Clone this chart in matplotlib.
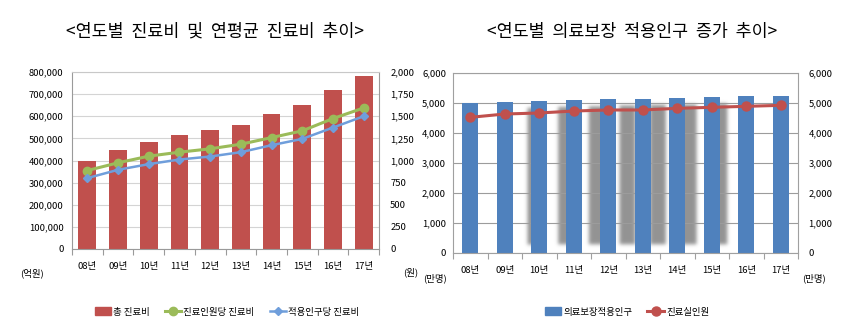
import numpy as np
import matplotlib
matplotlib.use("Agg")
import matplotlib.pyplot as plt
from matplotlib.ticker import FuncFormatter, MultipleLocator, FixedLocator
from matplotlib.patches import Patch

plt.rcParams["font.family"] = ["Noto Sans CJK KR", "DejaVu Sans"]

# ---- data ----
years = ["08년", "09년", "10년", "11년", "12년", "13년", "14년", "15년", "16년", "17년"]

# left chart: total medical expenses (억원) and per-capita expenses (원)
total_cost = [400000, 446000, 485000, 515000, 537000, 562000, 610000, 652000, 720000, 781000]
cost_per_patient = [887, 974, 1049, 1094, 1132, 1184, 1259, 1335, 1474, 1594]
cost_per_covered = [801, 895, 959, 1011, 1045, 1094, 1173, 1244, 1372, 1500]

# right chart: covered population and actual patients (만명)
covered_pop = [5000, 5030, 5070, 5100, 5120, 5150, 5180, 5190, 5220, 5250]
patients = [4522, 4633, 4667, 4733, 4767, 4767, 4822, 4856, 4889, 4922]

left_title = "<연도별  진료비  및  연평균  진료비  추이>"
right_title = "<연도별  의료보장  적용인구  증가  추이>"

RED = "#C0504D"
GREEN = "#9BBB59"
LBLUE = "#6F9EDB"
BLUE = "#4F81BD"

comma = FuncFormatter(lambda v, p: f"{int(v):,}")
TFS = 6.8

fig = plt.figure(figsize=(8.49, 3.22), dpi=100)
W, H = 849, 322


def frac_box(x0, y0, x1, y1):
    return [x0 / W, 1 - y1 / H, (x1 - x0) / W, (y1 - y0) / H]


def style_axes(ax, grid_color, spine_color):
    ax.set_xlim(-0.5, len(years) - 0.5)
    ax.set_xticks(range(len(years)))
    ax.set_xticklabels(years, fontsize=TFS)
    ax.xaxis.set_minor_locator(FixedLocator(np.arange(-0.5, len(years), 1.0)))
    ax.tick_params(axis="x", which="major", length=0, pad=9)
    ax.tick_params(axis="x", which="minor", length=4, color=spine_color, width=0.8)
    ax.tick_params(axis="y", length=0, labelsize=TFS)
    ax.yaxis.set_major_formatter(comma)
    ax.set_axisbelow(True)
    ax.yaxis.grid(True, color=grid_color, linewidth=0.8)
    for s in ax.spines.values():
        s.set_color(spine_color)
        s.set_linewidth(0.8)


# ---------------- left chart ----------------
axL = fig.add_axes(frac_box(72, 72, 379, 249))
x = np.arange(len(years))
axL.bar(x, total_cost, width=0.58, color=RED, zorder=2)
axL.set_ylim(0, 800000)
axL.yaxis.set_major_locator(MultipleLocator(100000))
style_axes(axL, "#d4d4d4", "#9a9a9a")
axL.spines["top"].set_color("#c8c8c8")
axL.tick_params(axis="y", pad=6)

axL2 = axL.twinx()
axL2.set_ylim(0, 2000)
axL2.yaxis.set_major_locator(MultipleLocator(250))
axL2.yaxis.set_major_formatter(comma)
axL2.tick_params(axis="y", length=0, labelsize=TFS, pad=8)
for s in axL2.spines.values():
    s.set_visible(False)
l_green, = axL2.plot(x, cost_per_patient, color=GREEN, lw=2.2, marker="o", ms=6,
                     zorder=3)
l_blue, = axL2.plot(x, cost_per_covered, color=LBLUE, lw=1.8, marker="D", ms=3.6,
                    zorder=4)

fig.text(32 / W, 1 - 273 / H, "(억원)", fontsize=TFS, ha="center", va="center")
fig.text(411 / W, 1 - 272 / H, "(원)", fontsize=TFS, ha="center", va="center")

fig.legend([Patch(color=RED), l_green, l_blue],
           ["총 진료비", "진료인원당 진료비", "적용인구당 진료비"],
           loc="center", bbox_to_anchor=(227 / W, 1 - 312 / H), ncol=3,
           frameon=False, fontsize=TFS, handlelength=1.7, handleheight=0.9,
           handletextpad=0.25, columnspacing=1.6)

# ---------------- right chart ----------------
axR = fig.add_axes(frac_box(453, 73, 798, 253))
axR.set_ylim(0, 6000)
axR.yaxis.set_major_locator(MultipleLocator(1000))
style_axes(axR, "#9c9c9c", "#a0a0a0")
axR.tick_params(axis="y", pad=5)
bw = 0.46
axR.bar(x, covered_pop, width=bw, color=BLUE, zorder=2)

# soft drop shadows behind the middle bars
nx, ny = 1000, 600
gx = np.linspace(-0.5, len(years) - 0.5, nx)
gy = np.linspace(0, 6000, ny)
mask = np.zeros((ny, nx))
for i in range(2, 9):
    off = -(i - 1) * 0.111
    x0, x1 = i + off - bw / 2, i + off + bw / 2
    y0, y1 = 0.055 * covered_pop[i], 0.955 * covered_pop[i]
    mask[np.ix_((gy >= y0) & (gy <= y1), (gx >= x0) & (gx <= x1))] = 1.0


def gauss_blur(a, sx, sy):
    def kern(s):
        r = int(3 * s) + 1
        t = np.arange(-r, r + 1)
        k = np.exp(-0.5 * (t / s) ** 2)
        return k / k.sum()
    kx, ky = kern(sx), kern(sy)
    a = np.apply_along_axis(lambda r: np.convolve(r, kx, mode="same"), 1, a)
    a = np.apply_along_axis(lambda c: np.convolve(c, ky, mode="same"), 0, a)
    return a


mask = gauss_blur(mask, sx=nx / 345 * 1.8, sy=ny / 180 * 1.8)
rgba = np.zeros((ny, nx, 4))
rgba[..., :3] = 0.58
rgba[..., 3] = np.clip(mask, 0, 1)
axR.imshow(rgba, origin="lower", extent=[-0.5, len(years) - 0.5, 0, 6000],
           aspect="auto", zorder=0.3, interpolation="bilinear")
axR.set_xlim(-0.5, len(years) - 0.5)
axR.set_ylim(0, 6000)

axR2 = axR.twinx()
axR2.set_ylim(0, 6000)
axR2.yaxis.set_major_locator(MultipleLocator(1000))
axR2.yaxis.set_major_formatter(comma)
axR2.tick_params(axis="y", length=0, labelsize=TFS, pad=7.5)
for s in axR2.spines.values():
    s.set_visible(False)
l_red, = axR2.plot(x, patients, color=RED, lw=2.2, marker="o", ms=6.5, zorder=3)

fig.text(435 / W, 1 - 278 / H, "(만명)", fontsize=TFS, ha="center", va="center")
fig.text(814 / W, 1 - 278 / H, "(만명)", fontsize=TFS, ha="center", va="center")

fig.legend([Patch(color=BLUE), l_red], ["의료보장적용인구", "진료실인원"],
           loc="center", bbox_to_anchor=(627 / W, 1 - 312 / H), ncol=2,
           frameon=False, fontsize=TFS, handlelength=1.7, handleheight=0.9,
           handletextpad=0.25, columnspacing=1.6)

# titles
fig.text(215 / W, 1 - 32 / H, left_title, fontsize=12.5, ha="center", va="center")
fig.text(632 / W, 1 - 32 / H, right_title, fontsize=12.5, ha="center", va="center")

fig.savefig("out.png", dpi=100)
